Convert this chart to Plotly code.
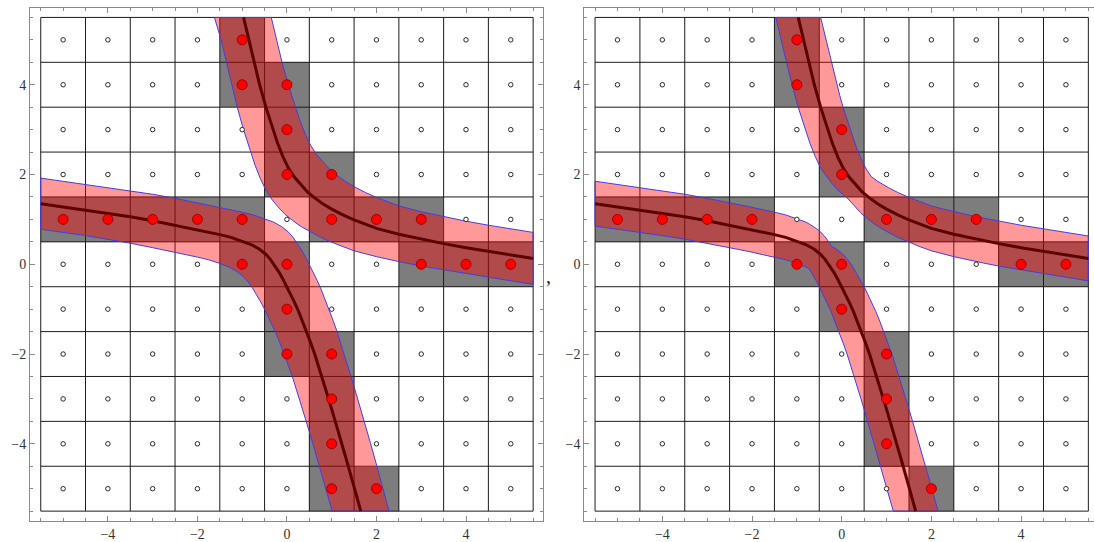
import numpy as np
import plotly.graph_objects as go

# ---------------- data ----------------
lattice = list(range(-5, 6))                 # lattice points (cell centres)
cell_edges = [-5.5 + i for i in range(12)]   # grid lines

# curve, upper-right branch (x, y)
upper_x = [-1.37, -1.12, -0.97, -0.85, -0.73, -0.61, -0.47, -0.31, -0.21, -0.09,
           0.03, 0.16, 0.30, 0.45, 0.62, 0.80, 1.00, 1.25, 1.50, 1.75,
           2.00, 2.50, 3.00, 3.50, 4.00, 4.50, 5.00, 5.50, 6.00, 7.00]
upper_y = [7.00, 6.00, 5.50, 5.00, 4.50, 4.00, 3.50, 3.00, 2.70, 2.40,
           2.15, 1.95, 1.78, 1.62, 1.48, 1.35, 1.23, 1.10, 0.99, 0.89,
           0.80, 0.67, 0.56, 0.46, 0.37, 0.29, 0.21, 0.13, 0.05, -0.10]

# curve, lower-left branch (x, y)
lower_x = [-7.00, -6.00, -5.50, -5.00, -4.50, -4.00, -3.50, -3.00, -2.50, -2.00,
           -1.50, -1.25, -1.00, -0.80, -0.62, -0.48, -0.37, -0.27, -0.175, -0.085,
           0.00, 0.09, 0.175, 0.26, 0.35, 0.44, 0.53, 0.62, 0.78, 0.93,
           1.08, 1.23, 1.37, 1.51, 1.65, 1.78, 2.04]
lower_y = [1.55, 1.42, 1.35, 1.28, 1.21, 1.14, 1.06, 0.97, 0.87, 0.77,
           0.66, 0.60, 0.52, 0.44, 0.34, 0.23, 0.11, -0.03, -0.18, -0.34,
           -0.50, -0.68, -0.86, -1.05, -1.27, -1.50, -1.75, -2.00, -2.50, -3.00,
           -3.50, -4.00, -4.50, -5.00, -5.50, -6.00, -7.00]

# selected lattice points (red dots / gray cells)
left_sel_x = [-1, -1, 0, 0, 0, 1, -5, -4, -3, -2, -1, 1, 2, 3, -1, 0, 3, 4, 5, 0, 0, 1, 1, 1, 1, 2]
left_sel_y = [5, 4, 4, 3, 2, 2, 1, 1, 1, 1, 1, 1, 1, 1, 0, 0, 0, 0, 0, -1, -2, -2, -3, -4, -5, -5]
right_sel_x = [-1, -1, 0, 0, -5, -4, -3, -2, 1, 2, 3, -1, 0, 4, 5, 0, 1, 1, 1, 2]
right_sel_y = [5, 4, 3, 2, 1, 1, 1, 1, 1, 1, 1, 0, 0, 0, 0, -1, -2, -3, -4, -5]

x_tick_vals = [-4, -2, 0, 2, 4]

# ---------------- geometry helpers ----------------
LO, HI = cell_edges[0], cell_edges[-1]
H = (cell_edges[1] - cell_edges[0]) / 2.0


def clip_polygon(pts):
    def clip(pts, inside, inter):
        out = []
        n = len(pts)
        for i in range(n):
            cur, prev = pts[i], pts[i - 1]
            if inside(cur):
                if not inside(prev):
                    out.append(inter(prev, cur))
                out.append(cur)
            elif inside(prev):
                out.append(inter(prev, cur))
        return out

    def ix(a, b, v):
        t = (v - a[0]) / (b[0] - a[0])
        return (v, a[1] + t * (b[1] - a[1]))

    def iy(a, b, v):
        t = (v - a[1]) / (b[1] - a[1])
        return (a[0] + t * (b[0] - a[0]), v)

    pts = clip(pts, lambda p: p[0] >= LO, lambda a, b: ix(a, b, LO))
    pts = clip(pts, lambda p: p[0] <= HI, lambda a, b: ix(a, b, HI))
    pts = clip(pts, lambda p: p[1] >= LO, lambda a, b: iy(a, b, LO))
    pts = clip(pts, lambda p: p[1] <= HI, lambda a, b: iy(a, b, HI))
    return pts


def clip_seg(x0, y0, x1, y1):
    dx, dy = x1 - x0, y1 - y0
    t0, t1 = 0.0, 1.0
    for p, q in ((-dx, x0 - LO), (dx, HI - x0), (-dy, y0 - LO), (dy, HI - y0)):
        if p == 0:
            if q < 0:
                return None
        else:
            r = q / p
            if p < 0:
                if r > t1:
                    return None
                t0 = max(t0, r)
            else:
                if r < t0:
                    return None
                t1 = min(t1, r)
    return (x0 + t0 * dx, y0 + t0 * dy), (x0 + t1 * dx, y0 + t1 * dy)


def clip_polyline(xs, ys):
    out = []
    for i in range(len(xs) - 1):
        s = clip_seg(xs[i], ys[i], xs[i + 1], ys[i + 1])
        if s:
            if not out or out[-1] != s[0]:
                out.append(s[0])
            out.append(s[1])
    return out


def square_band(xs, ys):
    up = [(x + H, y + H) for x, y in zip(xs, ys)]
    lo = [(x - H, y - H) for x, y in zip(xs, ys)]
    return clip_polygon(up + lo[::-1])


def envelope(pa, qa, pb, qb, fn):
    grid = np.union1d(pa, pb)
    grid = grid[(grid >= max(pa[0], pb[0])) & (grid <= min(pa[-1], pb[-1]))]
    fa = np.interp(grid, pa, qa)
    fb = np.interp(grid, pb, qb)
    d = fa - fb
    pts = []
    for i in range(len(grid)):
        if i > 0 and d[i - 1] * d[i] < 0:
            t = d[i - 1] / (d[i - 1] - d[i])
            g = grid[i - 1] + t * (grid[i] - grid[i - 1])
            pts.append((g, fa[i - 1] + t * (fa[i] - fa[i - 1])))
        pts.append((grid[i], fn(fa[i], fb[i])))
    return pts


def cross_band(xs, ys):
    X, Y = np.array(xs), np.array(ys)
    P, Q = X - Y, X + Y
    up = envelope(P + H, Q + H, P - H, Q + H, max)
    lo = envelope(P - H, Q - H, P + H, Q - H, min)
    to_xy = lambda pq: ((pq[0] + pq[1]) / 2.0, (pq[1] - pq[0]) / 2.0)
    up = [to_xy(v) for v in up]
    lo = [to_xy(v) for v in lo]
    return clip_polygon(up + lo[::-1])


def join(polys, close=True):
    xs, ys = [], []
    for poly in polys:
        pts = list(poly) + ([poly[0]] if close else [])
        xs += [p[0] for p in pts] + [None]
        ys += [p[1] for p in pts] + [None]
    return xs, ys


# ---------------- styling ----------------
GRAY = "#7d7d7d"
BAND = "rgba(255,0,0,0.40)"
EDGE = "rgb(70,60,225)"
CURVE = "#5e0000"

fig = go.Figure()

panels = [
    ("x", "y", left_sel_x, left_sel_y, square_band),
    ("x2", "y2", right_sel_x, right_sel_y, cross_band),
]

gx, gy = [], []
for e in cell_edges:
    gx += [e, e, None, LO, HI, None]
    gy += [LO, HI, None, e, e, None]

cx_all, cy_all = [], []
for branch in ((upper_x, upper_y), (lower_x, lower_y)):
    pts = clip_polyline(*branch)
    cx_all += [p[0] for p in pts] + [None]
    cy_all += [p[1] for p in pts] + [None]

all_x = [i for j in lattice for i in lattice]
all_y = [j for j in lattice for i in lattice]

for xa, ya, sx, sy, band_fn in panels:
    z = [[1 if any(a == i and b == j for a, b in zip(sx, sy)) else 0 for i in lattice] for j in lattice]
    fig.add_trace(go.Heatmap(x=lattice, y=lattice, z=z, zmin=0, zmax=1,
                             colorscale=[[0, "white"], [1, GRAY]], showscale=False,
                             hoverinfo="skip", xaxis=xa, yaxis=ya))
    fig.add_trace(go.Scatter(x=gx, y=gy, mode="lines", line=dict(color="#1c1c1c", width=1),
                             hoverinfo="skip", xaxis=xa, yaxis=ya))
    bx, by = join([band_fn(upper_x, upper_y), band_fn(lower_x, lower_y)])
    fig.add_trace(go.Scatter(x=bx, y=by, mode="lines", fill="toself", fillcolor=BAND,
                             line=dict(color=EDGE, width=1), hoverinfo="skip", xaxis=xa, yaxis=ya))
    fig.add_trace(go.Scatter(x=cx_all, y=cy_all, mode="lines", line=dict(color=CURVE, width=3),
                             hoverinfo="skip", xaxis=xa, yaxis=ya))
    fig.add_trace(go.Scatter(x=all_x, y=all_y, mode="markers",
                             marker=dict(size=4.5, color="white", line=dict(color="#2a2a2a", width=1)),
                             hoverinfo="skip", xaxis=xa, yaxis=ya))
    fig.add_trace(go.Scatter(x=sx, y=sy, mode="markers",
                             marker=dict(size=10, color="#ff0000", line=dict(color="#a00000", width=1)),
                             hoverinfo="skip", xaxis=xa, yaxis=ya))

ax = dict(showgrid=False, zeroline=False, showline=True, linecolor="#8a8a8a", linewidth=1,
          ticks="inside", ticklen=5, tickwidth=1, tickcolor="#8a8a8a",
          tickmode="array", tickvals=x_tick_vals,
          tickfont=dict(family="Liberation Serif", size=14, color="#333333"),
          minor=dict(ticks="inside", ticklen=3, dtick=0.5, tick0=0, tickcolor="#8a8a8a", showgrid=False))

y_dom = [(542 - 521) / 542, (542 - 8) / 542]
fig.update_layout(
    width=1094, height=542, margin=dict(l=0, r=0, t=0, b=0),
    paper_bgcolor="white", plot_bgcolor="white", showlegend=False,
    xaxis=dict(ax, domain=[30 / 1094, 543 / 1094], range=[-5.74, 5.72], mirror="ticks", anchor="y"),
    yaxis=dict(ax, domain=y_dom, range=[-5.72, 5.71], mirror="ticks", anchor="x"),
    xaxis2=dict(ax, domain=[584.3 / 1094, 1.0], range=[-5.74, 5.626], mirror="ticks", anchor="y2"),
    yaxis2=dict(ax, domain=y_dom, range=[-5.72, 5.71], mirror=False, anchor="x2"),
    annotations=[dict(text=",", x=548 / 1094, y=(542 - 276) / 542, xref="paper", yref="paper",
                      showarrow=False, font=dict(family="Liberation Serif", size=20, color="#222"))],
)

fig.write_html("out.html", config={"displayModeBar": False},
               post_script="document.body.style.margin='0px';document.body.style.overflow='hidden';")
